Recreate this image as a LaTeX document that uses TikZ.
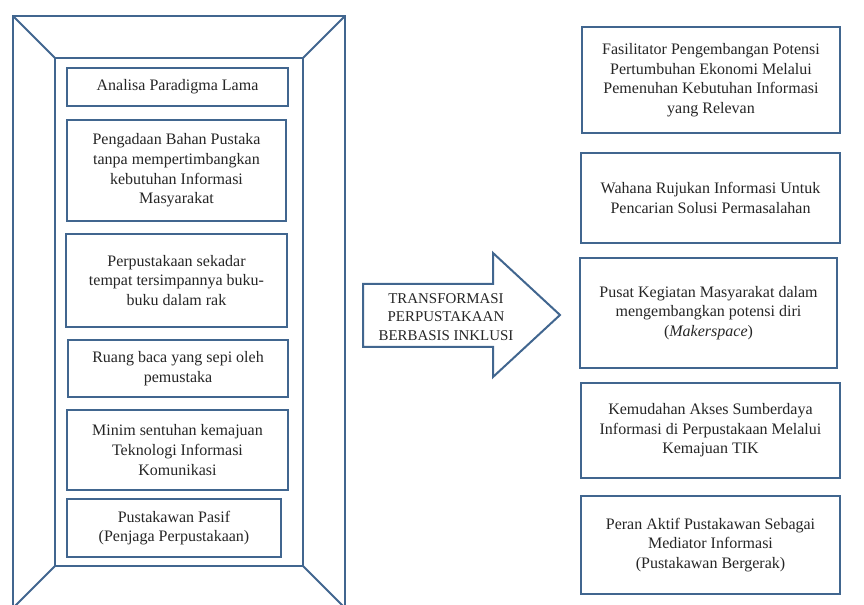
\documentclass[tikz,border=0pt]{standalone}
\usepackage{fontspec}
\setmainfont{Liberation Serif}
\definecolor{frame}{HTML}{41668F}
\definecolor{txt}{HTML}{262626}
\begin{document}
\begin{tikzpicture}[x=0.75pt,y=-0.75pt,
  bx/.style={draw=frame,line width=1.5pt,fill=white},
  lbl/.style={text=txt,align=center,font=\fontsize{12}{14.7}\selectfont,inner sep=0pt},
  shp/.style={draw=frame,line width=1.5pt,line join=miter}]
\useasboundingbox (0,0) rectangle (864,605);
\begin{scope}
\clip (0,0) rectangle (864,605);
% bevel frame
\draw[shp] (13,16) rectangle (345,610);
\draw[shp] (55,58) rectangle (303,566);
\draw[shp] (13,16) -- (55,58);
\draw[shp] (345,16) -- (303,58);
\draw[shp] (55,566) -- (13,608);
\draw[shp] (303,566) -- (345,608);
\end{scope}
% left boxes
\draw[bx] (67,68) rectangle (288,106);
\node[lbl] (l1) at (177.5,87) {Analisa Paradigma Lama};
\draw[bx] (67,120) rectangle (286,221);
\node[lbl] (l2) at (176.5,170.5) {Pengadaan Bahan Pustaka\\tanpa mempertimbangkan\\kebutuhan Informasi\\Masyarakat};
\draw[bx] (66,234) rectangle (287,327);
\node[lbl] (l3) at (176.5,280.5) {Perpustakaan sekadar\\tempat tersimpannya buku-\\buku dalam rak};
\draw[bx] (68,340) rectangle (288,397);
\node[lbl] (l4) at (178,368.5) {Ruang baca yang sepi oleh\\pemustaka};
\draw[bx] (67,410) rectangle (288,490);
\node[lbl] (l5) at (177.5,450) {Minim sentuhan kemajuan\\Teknologi Informasi\\Komunikasi};
\draw[bx] (67,499) rectangle (281,557);
\node[lbl] (l6) at (174,528) {Pustakawan Pasif\\(Penjaga Perpustakaan)};
% arrow
\draw[shp,fill=white] (363,284) -- (493,284) -- (493,253) -- (560,315) -- (493,377) -- (493,347) -- (363,347) -- cycle;
\node[lbl,font=\fontsize{11.2}{14}\selectfont] (ar) at (446,317) {TRANSFORMASI\\PERPUSTAKAAN\\BERBASIS INKLUSI};
% right boxes
\draw[bx] (582,27) rectangle (840,133);
\node[lbl] (r1) at (711,80) {Fasilitator Pengembangan Potensi\\Pertumbuhan Ekonomi Melalui\\Pemenuhan Kebutuhan Informasi\\yang Relevan};
\draw[bx] (581,153) rectangle (840,243);
\node[lbl] (r2) at (710.5,198) {Wahana Rujukan Informasi Untuk\\Pencarian Solusi Permasalahan};
\draw[bx] (580,258) rectangle (837,368);
\node[lbl] (r3) at (708.5,313) {Pusat Kegiatan Masyarakat dalam\\mengembangkan potensi diri\\(\textit{Makerspace})};
\draw[bx] (581,383) rectangle (840,478);
\node[lbl] (r4) at (710.5,430.5) {Kemudahan Akses Sumberdaya\\Informasi di Perpustakaan Melalui\\Kemajuan TIK};
\draw[bx] (581,496) rectangle (840,594);
\node[lbl] (r5) at (710.5,545) {Peran Aktif Pustakawan Sebagai\\Mediator Informasi\\(Pustakawan Bergerak)};
\end{tikzpicture}
\end{document}
